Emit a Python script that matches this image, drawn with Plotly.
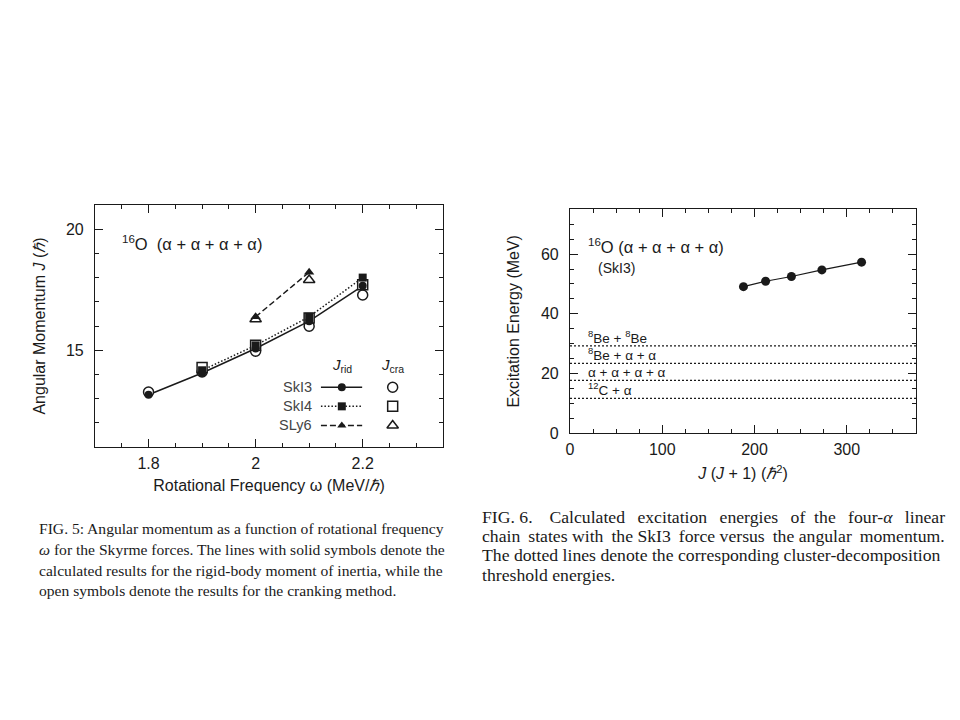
import plotly.graph_objects as go

# ---------------- data (left panel: FIG. 5) ----------------
omega = [1.8, 1.9, 2.0, 2.1, 2.2]
ski3_rid = [13.16, 14.06, 15.07, 16.20, 17.66]
ski3_cra = [13.27, 14.10, 14.96, 15.99, 17.28]
ski4_omega = [1.9, 2.0, 2.1, 2.2]
ski4_rid = [14.17, 15.20, 16.38, 18.00]
ski4_cra = [14.28, 15.20, 16.33, 17.70]
sly6_omega = [2.0, 2.1]
sly6_rid = [16.38, 18.22]
sly6_cra = [16.28, 17.90]
force_names = ["SkI3", "SkI4", "SLy6"]

# ---------------- data (right panel: FIG. 6) ----------------
jj1 = [188, 212, 240, 273, 316]
ex_energy = [49.1, 50.9, 52.5, 54.7, 57.3]
threshold_vals = [29.3, 23.4, 17.7, 11.7]
threshold_labels = ["<sup>8</sup>Be + <sup>8</sup>Be", "<sup>8</sup>Be + α + α",
                    "α + α + α + α", "<sup>12</sup>C + α"]

# page body has an 8px default margin; figure fills the rest of the 960x720 window
OFF = 8
FW, FH = 960 - 2 * OFF, 720 - 2 * OFF


def fx(px):
    return (px - OFF) / FW


def fy(py):
    return 1 - (py - OFF) / FH


INK = "#1a1a1a"
SANS = "Liberation Sans, Arial, sans-serif"
SERIF = "Liberation Serif, Times New Roman, serif"
NB = "\u00a0"
TH = "\u2009"
DOT = "1.5px,2px"
DASH = "6px,3px"

fig = go.Figure()

# --- left panel traces ---
fig.add_trace(go.Scatter(x=omega, y=ski3_rid, mode="lines", line=dict(color=INK, width=1.5),
                         xaxis="x", yaxis="y"))
fig.add_trace(go.Scatter(x=ski4_omega, y=ski4_rid, mode="lines", line=dict(color=INK, width=1.5, dash=DOT),
                         xaxis="x", yaxis="y"))
fig.add_trace(go.Scatter(x=sly6_omega, y=sly6_rid, mode="lines", line=dict(color=INK, width=1.5, dash=DASH),
                         xaxis="x", yaxis="y"))
open_style = dict(color="white", line=dict(color=INK, width=1.5))
fig.add_trace(go.Scatter(x=omega, y=ski3_cra, mode="markers",
                         marker=dict(symbol="circle", size=10, **open_style), xaxis="x", yaxis="y"))
fig.add_trace(go.Scatter(x=ski4_omega, y=ski4_cra, mode="markers",
                         marker=dict(symbol="square", size=10, **open_style), xaxis="x", yaxis="y"))
fig.add_trace(go.Scatter(x=sly6_omega, y=sly6_cra, mode="markers",
                         marker=dict(symbol="triangle-up", size=10, **open_style), xaxis="x", yaxis="y"))
fig.add_trace(go.Scatter(x=omega, y=ski3_rid, mode="markers",
                         marker=dict(symbol="circle", size=8, color=INK), xaxis="x", yaxis="y"))
fig.add_trace(go.Scatter(x=ski4_omega, y=ski4_rid, mode="markers",
                         marker=dict(symbol="square", size=8, color=INK), xaxis="x", yaxis="y"))
fig.add_trace(go.Scatter(x=sly6_omega, y=sly6_rid, mode="markers",
                         marker=dict(symbol="triangle-up", size=9, color=INK), xaxis="x", yaxis="y"))

# --- hand-drawn legend inside left panel ---
leg_rows = [13.47, 12.68, 11.89]
leg_dash = ["solid", DOT, DASH]
leg_sym = ["circle", "square", "triangle-up"]
lx0, lxm, lx1, lxo = 2.122, 2.161, 2.199, 2.256
for name, yv, dsh, sym in zip(force_names, leg_rows, leg_dash, leg_sym):
    fig.add_trace(go.Scatter(x=[lx0, lx1], y=[yv, yv], mode="lines",
                             line=dict(color=INK, width=1.5, dash=dsh), xaxis="x", yaxis="y"))
    fig.add_trace(go.Scatter(x=[lxm], y=[yv], mode="markers",
                             marker=dict(symbol=sym, size=8, color=INK), xaxis="x", yaxis="y"))
    fig.add_trace(go.Scatter(x=[lxo], y=[yv], mode="markers",
                             marker=dict(symbol=sym, size=10, **open_style), xaxis="x", yaxis="y"))

# --- right panel traces ---
for v in threshold_vals:
    fig.add_trace(go.Scatter(x=[0, 375], y=[v, v], mode="lines",
                             line=dict(color=INK, width=1.2, dash="2px,2px"), xaxis="x2", yaxis="y2"))
fig.add_trace(go.Scatter(x=jj1, y=ex_energy, mode="lines+markers",
                         line=dict(color=INK, width=1.2),
                         marker=dict(symbol="circle", size=9, color=INK), xaxis="x2", yaxis="y2"))

axis_common = dict(showline=True, linecolor=INK, linewidth=1.2, mirror="allticks",
                   ticks="inside", ticklen=8, tickwidth=1.2, tickcolor=INK,
                   showgrid=False, zeroline=False,
                   tickfont=dict(family=SANS, size=16, color=INK))
minor_common = dict(ticks="inside", ticklen=4, tickcolor=INK, tickwidth=1)

fig.update_layout(
    width=FW, height=FH,
    margin=dict(l=0, r=0, t=0, b=0, autoexpand=False),
    paper_bgcolor="white", plot_bgcolor="white",
    showlegend=False,
    xaxis=dict(domain=[fx(95), fx(443)], range=[1.7, 2.35], anchor="y",
               tickvals=[1.8, 2.0, 2.2], ticktext=["1.8", "2", "2.2"], ticklabelstandoff=2,
               minor=dict(dtick=0.05, tick0=1.7, **minor_common),
               title=dict(text="Rotational Frequency ω (MeV/<i>ℏ</i>)", standoff=8,
                          font=dict(family=SANS, size=16, color=INK)),
               **axis_common),
    yaxis=dict(domain=[fy(447), fy(205)], range=[11, 21], anchor="x",
               tickvals=[15, 20], ticklabelstandoff=7,
               minor=dict(dtick=1, tick0=11, **minor_common),
               title=dict(text="Angular Momentum <i>J</i> (<i>ℏ</i>)", standoff=16,
                          font=dict(family=SANS, size=16, color=INK)),
               **axis_common),
    xaxis2=dict(domain=[fx(570), fx(916)], range=[0, 375], anchor="y2",
                tickvals=[0, 100, 200, 300], ticklabelstandoff=1,
                minor=dict(dtick=25, tick0=0, **minor_common),
                title=dict(text="<i>J</i> (<i>J</i> + 1) (<i>ℏ</i><sup>2</sup>)", standoff=11,
                           font=dict(family=SANS, size=16, color=INK)),
                **axis_common),
    yaxis2=dict(domain=[fy(433.3), fy(209.3)], range=[0, 75], anchor="x2",
                tickvals=[0, 20, 40, 60], ticklabelstandoff=7,
                minor=dict(dtick=5, tick0=0, **minor_common),
                title=dict(text="Excitation Energy (MeV)", standoff=17,
                           font=dict(family=SANS, size=16, color=INK)),
                **axis_common),
)

ann = []
# left panel texts
ann.append(dict(x=1.75, y=19.43, xref="x", yref="y", xanchor="left", yanchor="middle", showarrow=False,
                xshift=-2, text="<sup>16</sup>O  (α + α + α + α)", font=dict(family=SANS, size=16.5, color=INK)))
ann.append(dict(x=lxm, y=14.38, xref="x", yref="y", xanchor="center", yanchor="middle", showarrow=False,
                text="<i>J</i><sub>rid</sub>", font=dict(family=SANS, size=15, color=INK)))
ann.append(dict(x=lxo, y=14.38, xref="x", yref="y", xanchor="center", yanchor="middle", showarrow=False,
                text="<i>J</i><sub>cra</sub>", font=dict(family=SANS, size=15, color=INK)))
for name, yv in zip(force_names, leg_rows):
    ann.append(dict(x=2.105, y=yv, xref="x", yref="y", xanchor="right", yanchor="middle", showarrow=False,
                    xshift=2, text=name, font=dict(family=SANS, size=14.5, color="#444444")))
# right panel texts
ann.append(dict(x=19, y=62.8, xref="x2", yref="y2", xanchor="left", yanchor="middle", showarrow=False,
                xshift=-2, text="<sup>16</sup>O (α + α + α + α)", font=dict(family=SANS, size=16.5, color=INK)))
ann.append(dict(x=30, y=55.4, xref="x2", yref="y2", xanchor="left", yanchor="middle", showarrow=False,
                xshift=-2, text="(SkI3)", font=dict(family=SANS, size=14, color=INK)))
for v, lab in zip(threshold_vals, threshold_labels):
    ann.append(dict(x=19, y=v, xref="x2", yref="y2", xanchor="left", yanchor="bottom", showarrow=False,
                    xshift=-2, text=lab, font=dict(family=SANS, size=13.5, color=INK), yshift=-2))

# captions
cap5 = ["FIG. 5: Angular momentum as a function of rotational frequency",
        "<i>ω</i> for the Skyrme forces. The lines with solid symbols denote the",
        "calculated results for the rigid-body moment of inertia, while the",
        "open symbols denote the results for the cranking method."]
cap5_y = [528, 549.5, 570, 590.5]
for t, yy in zip(cap5, cap5_y):
    ann.append(dict(x=fx(40), y=fy(yy), xref="paper", yref="paper", xanchor="left", yanchor="middle",
                    xshift=-3, showarrow=False, text=t, font=dict(family=SERIF, size=15.6, color=INK)))


def justify(words, extra):
    # join words with normal spaces, adding the given extra filler after each gap
    out = words[0]
    for w, e in zip(words[1:], extra):
        out += " " + e + w
    return out


line1 = justify(["FIG. 6." + NB, "Calculated", "excitation", "energies", "of", "the", "four-<i>α</i>", "linear"],
                [NB + TH, NB + TH, NB + TH, NB + TH, NB, NB + TH, NB + TH])
line2 = justify(["chain", "states", "with", "the", "SkI3", "force", "versus", "the", "angular", "momentum."],
                [TH, "", TH, "", TH, "", TH, "", TH])
cap6 = [line1, line2,
        "The dotted lines denote the corresponding cluster-decomposition",
        "threshold energies."]
cap6_y = [516.7, 535.5, 554.5, 574.5]
for t, yy in zip(cap6, cap6_y):
    ann.append(dict(x=fx(483), y=fy(yy), xref="paper", yref="paper", xanchor="left", yanchor="middle",
                    xshift=-3, showarrow=False, text=t, font=dict(family=SERIF, size=17.7, color=INK)))

fig.update_layout(annotations=ann)
fig.write_html("out.html")
